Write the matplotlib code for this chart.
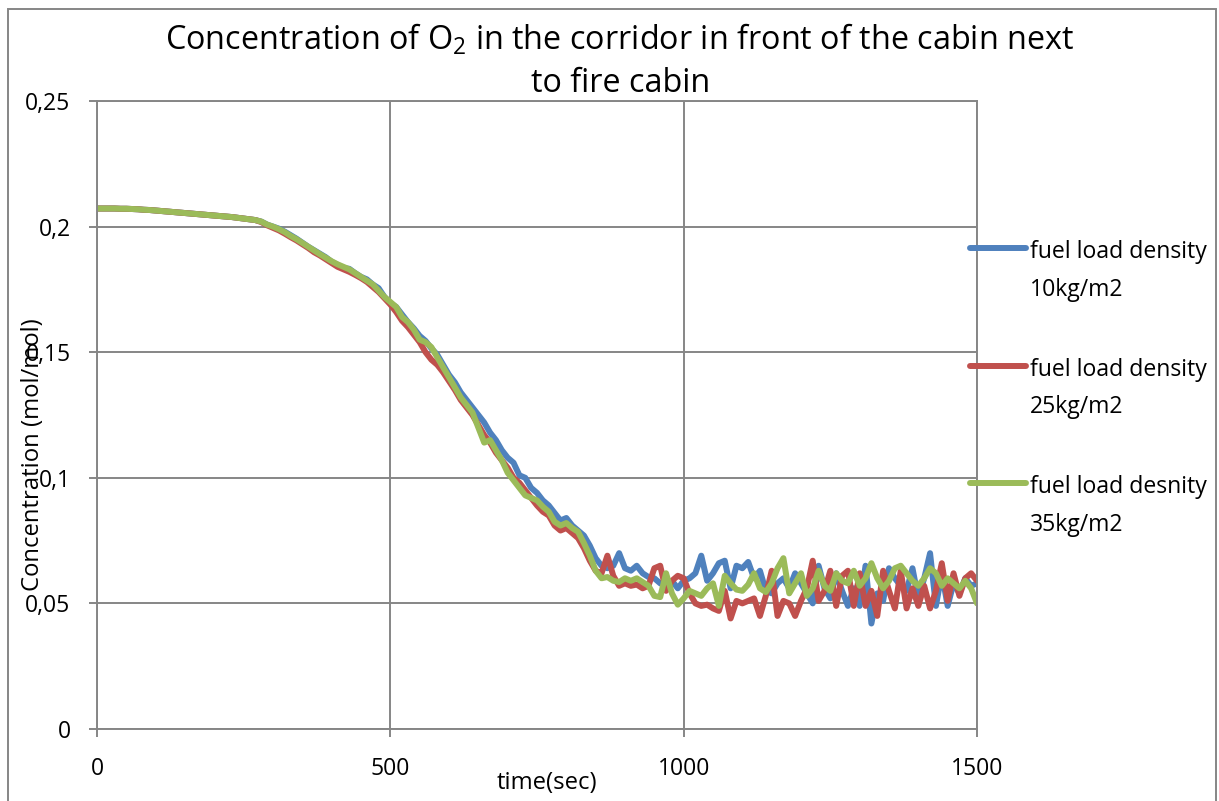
import numpy as np
import matplotlib
matplotlib.use("Agg")
import matplotlib.pyplot as plt
from matplotlib.ticker import FuncFormatter
from matplotlib.patches import Rectangle

plt.rcParams['font.family'] = ['Open Sans', 'DejaVu Sans']
plt.rcParams['mathtext.fontset'] = 'custom'
plt.rcParams['mathtext.rm'] = 'Open Sans'

# time axis (s), sampled every 10 s
time_s = np.arange(0, 1501, 10)

o2_10kg = [
    0.2072, 0.2072, 0.2072, 0.2072, 0.2071, 0.2071, 0.2070, 0.2069, 0.2067, 0.2066,
    0.2064, 0.2062, 0.2060, 0.2058, 0.2056, 0.2054, 0.2052, 0.2050, 0.2048, 0.2046,
    0.2044, 0.2042, 0.2040, 0.2038, 0.2035, 0.2032, 0.2029, 0.2026, 0.2020, 0.2008,
    0.2000, 0.1992, 0.1980, 0.1966, 0.1952, 0.1936, 0.1920, 0.1906, 0.1892, 0.1878,
    0.1860, 0.1848, 0.1835, 0.1832, 0.1815, 0.1800, 0.1790, 0.1770, 0.1755, 0.1720,
    0.1695, 0.1680, 0.1650, 0.1620, 0.1595, 0.1565, 0.1545, 0.1515, 0.1490, 0.1450,
    0.1410, 0.1380, 0.1340, 0.1310, 0.1280, 0.1250, 0.1220, 0.1180, 0.1150, 0.1110,
    0.1080, 0.1060, 0.1010, 0.1000, 0.0960, 0.0940, 0.0910, 0.0890, 0.0860, 0.0830,
    0.0840, 0.0810, 0.0790, 0.0770, 0.0730, 0.0680, 0.0650, 0.0640, 0.0650, 0.0700,
    0.0640, 0.0630, 0.0650, 0.0620, 0.0605, 0.0600, 0.0580, 0.0570, 0.0590, 0.0560,
    0.0590, 0.0600, 0.0620, 0.0690, 0.0590, 0.0620, 0.0660, 0.0670, 0.0560, 0.0650,
    0.0640, 0.0665, 0.0600, 0.0630, 0.0550, 0.0540, 0.0580, 0.0600, 0.0560, 0.0620,
    0.0580, 0.0540, 0.0500, 0.0650, 0.0560, 0.0520, 0.0620, 0.0550, 0.0490, 0.0560,
    0.0490, 0.0650, 0.0420, 0.0540, 0.0510, 0.0640, 0.0600, 0.0570, 0.0550, 0.0640,
    0.0520, 0.0600, 0.0700, 0.0490, 0.0620, 0.0490, 0.0580, 0.0540, 0.0600, 0.0570,
    0.0580,
]

o2_25kg = [
    0.2072, 0.2072, 0.2072, 0.2072, 0.2071, 0.2071, 0.2070, 0.2069, 0.2067, 0.2066,
    0.2064, 0.2062, 0.2060, 0.2058, 0.2056, 0.2054, 0.2052, 0.2050, 0.2048, 0.2046,
    0.2044, 0.2042, 0.2040, 0.2038, 0.2035, 0.2032, 0.2029, 0.2026, 0.2018, 0.2005,
    0.1995, 0.1985, 0.1972, 0.1958, 0.1945, 0.1930, 0.1915, 0.1898, 0.1885, 0.1870,
    0.1855, 0.1840, 0.1830, 0.1820, 0.1808, 0.1795, 0.1780, 0.1760, 0.1740, 0.1715,
    0.1690, 0.1660, 0.1625, 0.1600, 0.1570, 0.1540, 0.1500, 0.1470, 0.1450, 0.1420,
    0.1385, 0.1350, 0.1310, 0.1280, 0.1250, 0.1210, 0.1170, 0.1140, 0.1100, 0.1070,
    0.1040, 0.1000, 0.0980, 0.0950, 0.0920, 0.0890, 0.0865, 0.0850, 0.0810, 0.0790,
    0.0800, 0.0780, 0.0760, 0.0720, 0.0670, 0.0630, 0.0620, 0.0690, 0.0610, 0.0570,
    0.0580, 0.0570, 0.0575, 0.0560, 0.0570, 0.0640, 0.0650, 0.0550, 0.0590, 0.0610,
    0.0600, 0.0540, 0.0500, 0.0490, 0.0495, 0.0480, 0.0470, 0.0550, 0.0440, 0.0510,
    0.0500, 0.0510, 0.0520, 0.0450, 0.0530, 0.0630, 0.0450, 0.0510, 0.0500, 0.0450,
    0.0510, 0.0560, 0.0670, 0.0510, 0.0550, 0.0630, 0.0490, 0.0610, 0.0630, 0.0490,
    0.0620, 0.0490, 0.0550, 0.0450, 0.0630, 0.0550, 0.0480, 0.0630, 0.0480, 0.0560,
    0.0490, 0.0570, 0.0480, 0.0550, 0.0660, 0.0510, 0.0620, 0.0530, 0.0600, 0.0620,
    0.0590,
]

o2_35kg = [
    0.2072, 0.2072, 0.2072, 0.2072, 0.2071, 0.2071, 0.2070, 0.2069, 0.2067, 0.2066,
    0.2064, 0.2062, 0.2060, 0.2058, 0.2056, 0.2054, 0.2052, 0.2050, 0.2048, 0.2046,
    0.2044, 0.2042, 0.2040, 0.2038, 0.2035, 0.2032, 0.2029, 0.2026, 0.2020, 0.2008,
    0.2000, 0.1990, 0.1978, 0.1963, 0.1950, 0.1935, 0.1920, 0.1905, 0.1890, 0.1876,
    0.1862, 0.1850, 0.1840, 0.1830, 0.1815, 0.1800, 0.1785, 0.1770, 0.1745, 0.1720,
    0.1700, 0.1680, 0.1640, 0.1620, 0.1590, 0.1550, 0.1540, 0.1520, 0.1480, 0.1440,
    0.1400, 0.1360, 0.1320, 0.1290, 0.1260, 0.1200, 0.1140, 0.1150, 0.1110, 0.1070,
    0.1020, 0.0990, 0.0960, 0.0930, 0.0920, 0.0910, 0.0885, 0.0865, 0.0825, 0.0810,
    0.0820, 0.0800, 0.0785, 0.0740, 0.0690, 0.0630, 0.0600, 0.0605, 0.0590, 0.0585,
    0.0600, 0.0590, 0.0600, 0.0585, 0.0570, 0.0530, 0.0525, 0.0620, 0.0540, 0.0495,
    0.0520, 0.0550, 0.0540, 0.0530, 0.0560, 0.0580, 0.0490, 0.0610, 0.0580, 0.0555,
    0.0550, 0.0575, 0.0620, 0.0560, 0.0545, 0.0580, 0.0640, 0.0680, 0.0540, 0.0580,
    0.0620, 0.0530, 0.0560, 0.0630, 0.0570, 0.0550, 0.0620, 0.0590, 0.0580, 0.0630,
    0.0570, 0.0600, 0.0660, 0.0600, 0.0560, 0.0590, 0.0640, 0.0650, 0.0620, 0.0590,
    0.0570, 0.0600, 0.0640, 0.0620, 0.0570, 0.0600, 0.0580, 0.0560, 0.0590, 0.0560,
    0.0500,
]

series_labels = [
    "fuel load density\n10kg/m2",
    "fuel load density\n25kg/m2",
    "fuel load desnity\n35kg/m2",
]
series_colors = ["#4F81BD", "#C0504D", "#9BBB59"]

y_ticks = [0, 0.05, 0.10, 0.15, 0.20, 0.25]
x_ticks = [0, 500, 1000, 1500]

GRID = "#868686"

fig = plt.figure(figsize=(12.19, 8.01), dpi=100)
ax = fig.add_axes([97 / 1219, 1 - 729 / 801, 880 / 1219, 628 / 801])

for vals, lab, col in zip([o2_10kg, o2_25kg, o2_35kg], series_labels, series_colors):
    ax.plot(time_s, vals, color=col, lw=4.3, label=lab,
            solid_joinstyle="round", solid_capstyle="round")

ax.set_xlim(0, 1500)
ax.set_ylim(0, 0.25)
ax.set_xticks(x_ticks)
ax.set_yticks(y_ticks)
ax.yaxis.set_major_formatter(FuncFormatter(lambda v, p: f"{v:g}".replace(".", ",")))
ax.grid(True, color=GRID, lw=1.4)
ax.set_axisbelow(True)
for s in ax.spines.values():
    s.set_color(GRID)
    s.set_linewidth(1.4)
ax.tick_params(axis="both", direction="out", length=6, width=1.4, color=GRID,
               labelsize=16.5, labelcolor="black")
ax.tick_params(axis="x", pad=14)
ax.tick_params(axis="y", pad=13)

fig.text(620 / 1219, 1 - 40 / 801,
         "Concentration of O$_\\mathregular{2}$ in the corridor in front of the cabin next",
         ha="center", va="center", fontsize=23.3)
fig.text(621 / 1219, 1 - 84 / 801, "to fire cabin", ha="center", va="center", fontsize=23.3)

fig.text(33 / 1219, 1 - 455 / 801, "Concentration (mol/mol)", rotation=90,
         ha="center", va="center", fontsize=17.2)
fig.text(547 / 1219, 1 - 783 / 801, "time(sec)", ha="center", va="center", fontsize=17.2)

leg = ax.legend(loc="upper left", bbox_to_anchor=(970 / 1219, 1 - 240 / 801),
                bbox_transform=fig.transFigure, frameon=False, fontsize=16.6,
                borderpad=0, borderaxespad=0, handlelength=2.45, handletextpad=0.15,
                labelspacing=2.43)
for line in leg.get_lines():
    line.set_linewidth(4.3)
for txt in leg.get_texts():
    txt.set_linespacing(1.75)
for col in leg._legend_handle_box.get_children():
    for row in col.get_children():
        row.align = "top"

fig.patches.append(Rectangle((8 / 1219, -0.05), 1208 / 1219, 1.05 - 9 / 801,
                             transform=fig.transFigure, fill=False,
                             edgecolor=GRID, lw=1.4))

fig.savefig("out.png", dpi=100)
